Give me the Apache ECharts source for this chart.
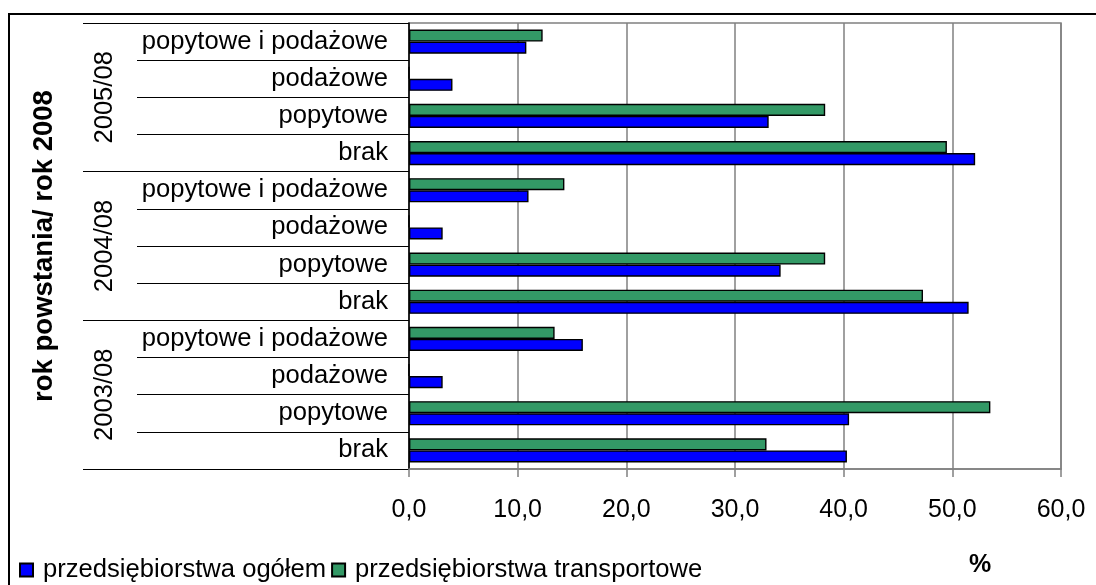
<!DOCTYPE html>
<html>
<head>
<meta charset="utf-8">
<script src="https://cdn.jsdelivr.net/npm/echarts@6/dist/echarts.min.js"></script>
<style>
    html, body { margin: 0; padding: 0; background: #fff; }
    #chart { width: 1096px; height: 585px; }
</style>
</head>
<body>
<div id="chart"></div>
<script>
// dane (od dołu do góry)
const groups = ['2003/08', '2004/08', '2005/08'];
const types = ['brak', 'popytowe', 'podażowe', 'popytowe i podażowe'];
const ogolem = [40.3, 40.5, 3.1, 16.0, 51.5, 34.2, 3.1, 11.0, 52.1, 33.1, 4.0, 10.8];
const transportowe = [32.9, 53.5, 0, 13.4, 47.3, 38.3, 0, 14.3, 49.5, 38.3, 0, 12.3];
const seriesNames = ['przedsiębiorstwa ogółem', 'przedsiębiorstwa transportowe'];

const categories = groups.flatMap(() => types);
const font = '"Liberation Sans", Arial, sans-serif';
const fs = 25.6;

const mCharts = echarts.init(document.getElementById('chart'));

const options = {
    animation: false,
    textStyle: { fontFamily: font, color: '#000' },
    title: {
        text: '%',
        left: 969,
        top: 553,
        padding: 0,
        textStyle: { fontFamily: font, fontSize: 25, fontWeight: 'bold', color: '#000' }
    },
    // legenda na dole po lewej
    legend: {
        data: seriesNames,
        left: 19,
        top: 557,
        padding: 0,
        icon: 'rect',
        itemWidth: 13,
        itemHeight: 13,
        itemGap: 5,
        textStyle: { fontFamily: font, fontSize: fs, color: '#000', padding: [0, 0, 0, 5] }
    },
    grid: {
        left: 409,
        right: 35,
        top: 23,
        bottom: 116,
        containLabel: false,
        outerBoundsMode: 'none',
        show: true,
        borderColor: '#808080',
        borderWidth: 1.5
    },
    xAxis: {
        type: 'value',
        min: 0,
        max: 60,
        interval: 10,
        axisLine: { show: true, lineStyle: { color: '#808080', width: 1.5 } },
        axisTick: { show: true, length: 8, lineStyle: { color: '#808080', width: 1.5 } },
        splitLine: { show: true, lineStyle: { color: '#808080', width: 1.5 } },
        axisLabel: {
            margin: 29,
            fontSize: 25,
            color: '#000',
            fontFamily: font,
            formatter: v => v.toFixed(1).replace('.', ',')
        }
    },
    yAxis: [
        {
            // podkategorie
            type: 'category',
            position: 'left',
            data: categories,
            axisLine: { show: true, lineStyle: { color: '#000', width: 1.5 } },
            axisTick: { show: true, interval: 0, length: 272, lineStyle: { color: '#000', width: 1 } },
            axisLabel: { interval: 0, margin: 21, fontSize: fs, color: '#000', fontFamily: font },
            splitLine: { show: false }
        },
        {
            // grupy lat
            type: 'category',
            position: 'left',
            data: groups,
            axisLine: { show: false },
            axisTick: { show: true, interval: 0, length: 326, lineStyle: { color: '#000', width: 1 } },
            axisLabel: { interval: 0, rotate: 90, margin: 291, fontSize: fs, color: '#000', fontFamily: font },
            splitLine: { show: false },
            name: 'rok powstania/ rok 2008',
            nameLocation: 'middle',
            nameGap: 351,
            nameTextStyle: { fontFamily: font, fontSize: 27.5, fontWeight: 'bold', color: '#000' }
        }
    ],
    // seria transportowa pierwsza, żeby była nad niebieską
    series: [
        {
            name: seriesNames[1],
            type: 'bar',
            yAxisIndex: 0,
            barGap: '0%',
            barCategoryGap: '35%',
            itemStyle: { color: '#339966', borderColor: '#000', borderWidth: 1.4 },
            data: transportowe
        },
        {
            name: seriesNames[0],
            type: 'bar',
            yAxisIndex: 0,
            barGap: '0%',
            barCategoryGap: '35%',
            itemStyle: { color: '#0000FF', borderColor: '#000', borderWidth: 1.4 },
            data: ogolem
        }
    ],
    // ramka wokół całego wykresu
    graphic: [
        {
            type: 'rect',
            silent: true,
            shape: { x: 9, y: 14, width: 1100, height: 600 },
            style: { fill: 'none', stroke: '#000', lineWidth: 2 }
        }
    ]
};

mCharts.setOption(options);
</script>
</body>
</html>
